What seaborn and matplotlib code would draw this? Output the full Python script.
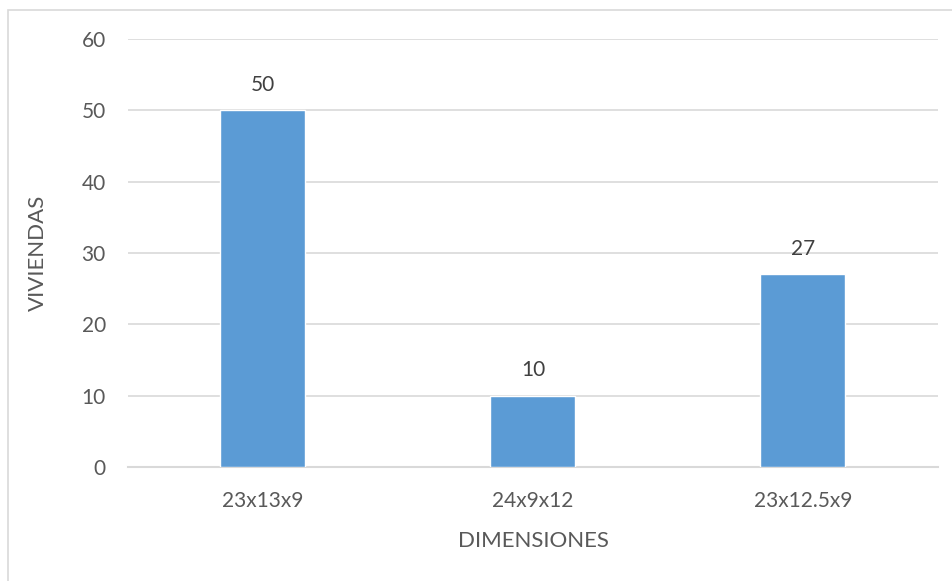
import matplotlib
matplotlib.use("Agg")
import matplotlib.pyplot as plt
import matplotlib.patches as mpatches
import seaborn as sns
import pandas as pd

categories = ["23x13x9", "24x9x12", "23x12.5x9"]
viviendas = [50, 10, 27]
yticks = [0, 10, 20, 30, 40, 50, 60]

df = pd.DataFrame({"DIMENSIONES": categories, "VIVIENDAS": viviendas})

sns.set_theme(style="white")
plt.rcParams["font.family"] = ["Lato", "DejaVu Sans"]

text_color = "#595959"
grid_color = "#d9d9d9"
bar_color = "#5b9bd5"

fig = plt.figure(figsize=(9.53, 5.81), dpi=100)
fig.patches.append(mpatches.Rectangle((8 / 953, -0.1), 1.2, (581 - 10) / 581 + 0.1,
                                      transform=fig.transFigure, fill=False,
                                      edgecolor="#d9d9d9", linewidth=1.2))
ax = fig.add_axes([128 / 953, (581 - 467) / 581, 810 / 953, 428 / 581])

sns.barplot(data=df, x="DIMENSIONES", y="VIVIENDAS", color=bar_color,
            saturation=1, width=85 / 270, ax=ax, zorder=3)

ax.set_xlim(-0.5, 2.5)
ax.set_ylim(0, 60)
ax.set_yticks(yticks)
ax.yaxis.grid(True, color=grid_color, linewidth=1.2, zorder=0)
ax.set_axisbelow(True)
for side in ["left", "right", "top"]:
    ax.spines[side].set_visible(False)
ax.spines["bottom"].set_color(grid_color)
ax.spines["bottom"].set_linewidth(1.5)
ax.tick_params(axis="both", length=0, labelsize=15, colors=text_color)
ax.tick_params(axis="y", pad=16)
ax.tick_params(axis="x", pad=17)

ax.set_xlabel("DIMENSIONES", fontsize=16, color=text_color, labelpad=15)
ax.set_ylabel("VIVIENDAS", fontsize=16, color=text_color, labelpad=24)

for i, v in enumerate(viviendas):
    ax.annotate(str(v), (i, v), xytext=(0, 11), textcoords="offset points",
                ha="center", va="bottom", fontsize=15, color="#404040")

fig.savefig("out.png", dpi=100)
